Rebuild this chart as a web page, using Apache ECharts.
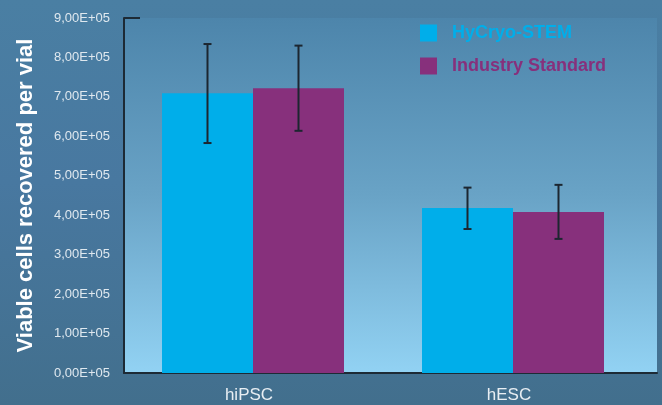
<!DOCTYPE html>
<html>
<head>
<meta charset="utf-8">
<script src="https://cdn.jsdelivr.net/npm/echarts@6/dist/echarts.min.js"></script>
<style>
html,body{margin:0;padding:0;}
body{width:662px;height:405px;overflow:hidden;background:linear-gradient(180deg,#4a7fa3 0%,#4878a0 45%,#426f8d 100%);}
#c{width:662px;height:405px;}
</style>
</head>
<body>
<div id="c"></div>
<script>
var categories = ['hiPSC', 'hESC'];
var seriesNames = ['HyCryo-STEM', 'Industry Standard'];
var hycryo = [709000, 418000];
var industry = [722000, 408000];
var hycryoLow = [583000, 365000];
var hycryoHigh = [834000, 470000];
var industryLow = [614000, 340000];
var industryHigh = [830000, 477000];
var yTicks = [0, 100000, 200000, 300000, 400000, 500000, 600000, 700000, 800000, 900000];

var colors = ['#00aeea', '#87307c'];
var FONT = "'Liberation Sans', Arial, sans-serif";
var CAT_GAP = 0.3;

function errorSeries(idx, low, high) {
  return {
    type: 'custom',
    xAxisIndex: 0, yAxisIndex: 0,
    z: 5,
    silent: true,
    data: categories.map(function (c, i) { return [i, low[i], high[i]]; }),
    renderItem: function (params, api) {
      var band = api.size([1, 0])[0];
      var bw = band * (1 - CAT_GAP) / 2;
      var off = (idx - 0.5) * bw;
      var lo = api.coord([api.value(0), api.value(1)]);
      var hi = api.coord([api.value(0), api.value(2)]);
      var x = lo[0] + off;
      var style = { stroke: '#1c2630', lineWidth: 2 };
      return {
        type: 'group',
        children: [
          { type: 'line', shape: { x1: x, y1: hi[1], x2: x, y2: lo[1] }, style: style },
          { type: 'line', shape: { x1: x - 4, y1: hi[1], x2: x + 4, y2: hi[1] }, style: style },
          { type: 'line', shape: { x1: x - 4, y1: lo[1], x2: x + 4, y2: lo[1] }, style: style }
        ]
      };
    }
  };
}

var chart = echarts.init(document.getElementById('c'));
var option = {
  backgroundColor: 'transparent',
  animation: false,
  textStyle: { fontFamily: FONT },
  legend: {
    orient: 'vertical',
    left: 415, top: 19,
    itemWidth: 17, itemHeight: 17, itemGap: 15,
    icon: 'rect',
    data: [
      { name: seriesNames[0], textStyle: { color: colors[0] } },
      { name: seriesNames[1], textStyle: { color: colors[1] } }
    ],
    textStyle: { fontSize: 18, fontWeight: 'bold', fontFamily: FONT, padding: [0, 0, 0, 10] }
  },
  grid: [
    { left: 123, top: 18, width: 520, height: 355, containLabel: false },
    { left: 124, top: 18, width: 533, height: 355, show: true, borderWidth: 0,
      backgroundColor: new echarts.graphic.LinearGradient(0, 0, 0, 1, [
        { offset: 0, color: '#4d85ab' },
        { offset: 0.5, color: '#69a3c6' },
        { offset: 1, color: '#92d2f3' }
      ]) }
  ],
  xAxis: [
    { type: 'category', gridIndex: 0, data: categories,
      axisLine: { show: false }, axisTick: { show: false },
      axisLabel: { color: '#e8eef3', fontSize: 17, margin: 14, fontFamily: FONT, padding: [0, 8, 0, 0] } },
    { type: 'category', gridIndex: 1, data: categories,
      axisLine: { show: true, lineStyle: { color: '#1d2a35', width: 2 } },
      axisTick: { show: false }, axisLabel: { show: false } }
  ],
  yAxis: [
    { type: 'value', gridIndex: 0, min: 0, max: 900000, interval: 100000, show: false },
    { type: 'value', gridIndex: 1, min: 0, max: 900000, interval: 100000,
      name: 'Viable cells recovered per vial',
      nameLocation: 'middle', nameRotate: 90, nameGap: 87,
      nameTextStyle: { color: '#ffffff', fontSize: 22, fontWeight: 'bold', fontFamily: FONT },
      axisLine: { show: true, lineStyle: { color: '#1d2a35', width: 2 } },
      axisTick: { show: false },
      splitLine: { show: false },
      axisLabel: { color: '#dfe8ef', fontSize: 13, margin: 14, fontFamily: FONT,
        customValues: yTicks,
        formatter: function (v) { return (v / 100000).toFixed(2).replace('.', ',') + 'E+05'; } } }
  ],
  series: [
    { name: seriesNames[0], type: 'bar', xAxisIndex: 0, yAxisIndex: 0, data: hycryo,
      barGap: '0%', barCategoryGap: (CAT_GAP * 100) + '%', itemStyle: { color: colors[0] } },
    { name: seriesNames[1], type: 'bar', xAxisIndex: 0, yAxisIndex: 0, data: industry,
      barGap: '0%', barCategoryGap: (CAT_GAP * 100) + '%', itemStyle: { color: colors[1] } },
    errorSeries(0, hycryoLow, hycryoHigh),
    errorSeries(1, industryLow, industryHigh)
  ]
};
chart.setOption(option);
var topPt = chart.convertToPixel({ xAxisIndex: 1, yAxisIndex: 1 }, [0, 900000]);
var gridRect = chart.getModel().getComponent('grid', 1).coordinateSystem.getRect();
chart.setOption({
  graphic: [{
    type: 'line', z: 10,
    shape: { x1: gridRect.x, y1: topPt[1], x2: gridRect.x + 16, y2: topPt[1] },
    style: { stroke: '#1d2a35', lineWidth: 2 }
  }]
});
</script>
</body>
</html>
